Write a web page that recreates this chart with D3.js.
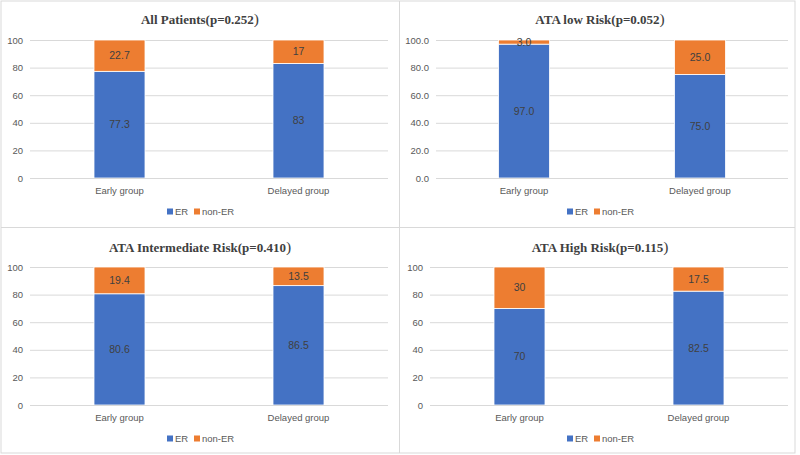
<!DOCTYPE html>
<html>
<head>
<meta charset="utf-8">
<script src="https://cdn.jsdelivr.net/npm/d3@7"></script>
<style>
  body { margin: 0; background: #fff; }
  svg { display: block; }
</style>
</head>
<body>
<svg id="chart" width="800" height="455"></svg>
<script>
// ------------- DATA ------------- //
var categories = ["Early group", "Delayed group"];
var seriesNames = ["ER", "non-ER"];
var titles = ["All Patients(p=0.252", "ATA low Risk(p=0.052", "ATA Intermediate Risk(p=0.410", "ATA High Risk(p=0.115"];
var erValues = [[77.3, 83], [97.0, 75.0], [80.6, 86.5], [70, 82.5]];
var nonErValues = [[22.7, 17], [3.0, 25.0], [19.4, 13.5], [30, 17.5]];
var yTicks = [0, 20, 40, 60, 80, 100];
var tickFormats = ["d", ".1f", "d", "d"];
var labelFormats = ["", ".1f", "", ""];

var colors = ["#4472C4", "#ED7D31"];

// panel layout: title centre, panel top, plot edges
var panels = [
  { cx: 200, ty: 0,   left: 30,  right: 388, top: 40,  bottom: 178 },
  { cx: 600, ty: 0,   left: 436, right: 788, top: 40,  bottom: 178 },
  { cx: 200, ty: 228, left: 30,  right: 388, top: 267, bottom: 405 },
  { cx: 600, ty: 228, left: 430, right: 788, top: 267, bottom: 405 }
];

var sans = "Liberation Sans, Arial, sans-serif";
var svg = d3.select("#chart");

// ------------- BORDERS ------------- //
svg.append("rect").attr("x", 1).attr("y", 1).attr("width", 794).attr("height", 452)
  .attr("fill", "none").attr("stroke", "#D9D9D9").attr("stroke-width", 1);
svg.append("line").attr("x1", 399.5).attr("x2", 399.5).attr("y1", 1).attr("y2", 453)
  .attr("stroke", "#D9D9D9");
svg.append("line").attr("x1", 1).attr("x2", 795).attr("y1", 227.5).attr("y2", 227.5)
  .attr("stroke", "#D9D9D9");

panels.forEach(function(p, i) {
  var g = svg.append("g");
  var pad = 1 - 51 / ((p.right - p.left) / 2);

  var x = d3.scaleBand()
    .domain(categories)
    .range([p.left, p.right])
    .paddingInner(pad)
    .paddingOuter(pad / 2);

  var y = d3.scaleLinear().domain([0, 100]).range([p.bottom, p.top]);

  // title
  var t = g.append("text")
    .attr("x", p.cx).attr("y", p.ty + 24)
    .attr("text-anchor", "middle")
    .attr("font-family", "Liberation Serif, Times New Roman, serif")
    .attr("font-weight", "bold")
    .attr("font-size", "13px")
    .attr("fill", "#404040");
  t.append("tspan").text(titles[i]);
  t.append("tspan").attr("font-weight", "normal").attr("font-size", "15.5px").text(")");

  // gridlines + y axis
  var yAxis = d3.axisLeft(y).tickValues(yTicks).tickFormat(d3.format(tickFormats[i]))
    .tickSize(-(p.right - p.left)).tickPadding(7);
  var ax = g.append("g").attr("transform", "translate(" + p.left + ",0)").call(yAxis);
  ax.select(".domain").remove();
  ax.selectAll(".tick line").attr("stroke", "#D9D9D9");
  ax.selectAll(".tick text").attr("fill", "#595959")
    .attr("font-family", sans).attr("font-size", "9.5px");

  // stacked bars
  var rows = categories.map(function(c, j) {
    return { cat: c, "ER": erValues[i][j], "non-ER": nonErValues[i][j] };
  });
  var stack = d3.stack().keys(seriesNames)(rows);
  var fmt = labelFormats[i] ? d3.format(labelFormats[i]) : function(v) { return String(v); };

  stack.forEach(function(layer, k) {
    var key = seriesNames[k];
    g.selectAll(null).data(layer).enter().append("rect")
      .attr("x", function(d) { return x(d.data.cat); })
      .attr("y", function(d) { return y(d[1]); })
      .attr("width", x.bandwidth())
      .attr("height", function(d) { return y(d[0]) - y(d[1]); })
      .attr("fill", colors[k])
      .attr("stroke", "#fff").attr("stroke-width", 0.8);

    g.selectAll(null).data(layer).enter().append("text")
      .attr("x", function(d) { return x(d.data.cat) + x.bandwidth() / 2; })
      .attr("y", function(d) { return y((d[0] + d[1]) / 2); })
      .attr("dy", "0.35em")
      .attr("text-anchor", "middle")
      .attr("font-family", sans)
      .attr("font-size", "10.5px")
      .attr("fill", "#404040")
      .text(function(d) { return fmt(d.data[key]); });
  });

  // baseline
  g.append("line").attr("x1", p.left).attr("x2", p.right)
    .attr("y1", p.bottom + 0.5).attr("y2", p.bottom + 0.5).attr("stroke", "#D9D9D9");

  // category labels
  g.selectAll(null).data(categories).enter().append("text")
    .attr("x", function(d) { return x(d) + x.bandwidth() / 2; })
    .attr("y", p.bottom + 16)
    .attr("text-anchor", "middle")
    .attr("font-family", sans)
    .attr("font-size", "9.5px")
    .attr("fill", "#595959")
    .text(function(d) { return d; });

  // legend
  var lg = g.append("g").attr("transform", "translate(" + (p.cx - 33) + "," + (p.bottom + 37) + ")");
  var offs = [0, 27];
  seriesNames.forEach(function(s, k) {
    lg.append("rect").attr("x", offs[k]).attr("y", -6.5).attr("width", 6).attr("height", 6)
      .attr("fill", colors[k]);
    lg.append("text").attr("x", offs[k] + 8).attr("y", 0)
      .attr("font-family", sans)
      .attr("font-size", "9.5px").attr("fill", "#595959").text(s);
  });
});
</script>
</body>
</html>
